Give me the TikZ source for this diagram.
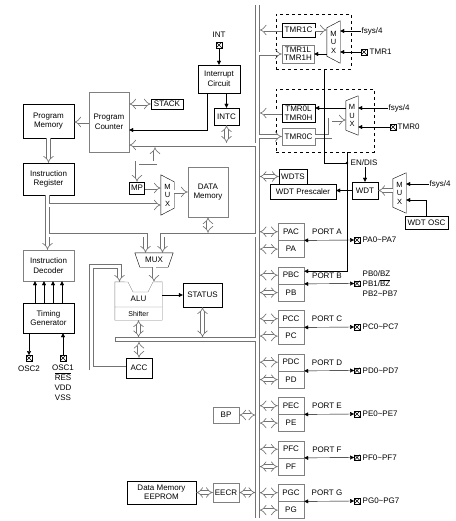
\documentclass[tikz,border=0pt]{standalone}
\usepackage{fontspec}
\setmainfont{Liberation Sans}
\usetikzlibrary{arrows.meta}

\begin{document}
\begin{tikzpicture}[x=1pt, y=-1pt
    , every node/.style={font=\fontsize{8}{9.5}\selectfont, inner sep=0.5pt}
    , box/.style={draw, align=center}
    , gbox/.style={box, draw=black!50}
    , bus/.style={draw=black!55, double=white, line width=0.65pt, double distance=3pt}
    , busto/.style={bus, -{Implies[scale=1.3]}}
    , busfrom/.style={bus, {Implies[scale=1.3]}-}
    , busboth/.style={bus, {Implies[scale=1.3]}-{Implies[scale=1.3]}}
    , sig/.style={-{Triangle[length=4pt, width=4pt]}}
    , sigboth/.style={{Triangle[length=4pt, width=4pt]}-{Triangle[length=4pt, width=4pt]}}
    , iopad/.style={draw, minimum size=5.5pt, inner sep=0pt
        , path picture={\draw (path picture bounding box.south west) -- (path picture bounding box.north east)
            (path picture bounding box.north west) -- (path picture bounding box.south east);}}
    , muxtxt/.style={minimum width=13pt, align=center, font=\fontsize{7.5}{8.5}\selectfont}
    ]
    \useasboundingbox (0,0) rectangle (455,521);

    % timers
    \node[draw, dashed, minimum width=75pt, minimum height=55pt] (tmr1box) at (313.5,41.5) {};
    \node[draw, dashed, minimum width=98pt, minimum height=63pt] (tmr0box) at (325,120.5) {};

    % left column
    \node[box, minimum width=51pt, minimum height=34pt] (pm) at (48.5,121) {Program\\Memory};
    \node[gbox, minimum width=40pt, minimum height=60pt] (pc) at (109,122) {Program\\Counter};
    \node[box, minimum width=32pt, minimum height=10pt] (stack) at (167,104) {STACK};
    \node[iopad] (intpad) at (219,45) {};
    \node (intlbl) at (219,35) {INT};
    \node[box, minimum width=42pt, minimum height=28pt] (intcir) at (219,79) {Interrupt\\Circuit};
    \node[box, minimum width=25pt, minimum height=17pt] (intc) at (226.5,116.5) {INTC};
    \node[box, minimum width=51pt, minimum height=32pt] (ir) at (48.5,179) {Instruction\\Register};
    \node[box, minimum width=15pt, minimum height=12pt] (mp) at (137,188) {MP};
    \node[muxtxt, minimum height=40pt] (dmux) at (167.5,195) {M\\U\\X};
    \node[gbox, minimum width=40pt, minimum height=50pt] (dm) at (208,192) {DATA\\Memory};
    \node[gbox, minimum width=51pt, minimum height=31pt] (id) at (48.5,265.5) {Instruction\\Decoder};
    \node[box, minimum width=51pt, minimum height=30pt] (tg) at (48.5,318) {Timing\\Generator};
    \node[iopad] (osc2) at (29,358) {};
    \node (osc2lbl) at (29,369) {OSC2};
    \node[iopad] (osc1) at (63,358) {};
    \node[align=center, anchor=north, font=\fontsize{8}{10}\selectfont] (osc1lbl) at (63,364) {OSC1\\$\overline{\mbox{RES}}$\\VDD\\VSS};

    % ALU part
    \node[minimum width=38pt, minimum height=14pt] (amux) at (154,260) {MUX};
    \node[minimum width=47pt, minimum height=38pt] (alu) at (138.5,301) {};
    \node (alulbl) at (138.5,298.5) {ALU};
    \node[font=\fontsize{7}{8}\selectfont] (shflbl) at (138.5,313.5) {Shifter};
    \node[box, minimum width=39pt, minimum height=24pt] (status) at (202.5,295) {STATUS};
    \node[box, minimum width=26pt, minimum height=20pt] (acc) at (139,368) {ACC};
    \node[gbox, minimum width=26pt, minimum height=16pt] (bp) at (226,415) {BP};
    \node[gbox, minimum width=26pt, minimum height=19pt] (eecr) at (226,492.5) {EECR};
    \node[box, minimum width=69pt, minimum height=23pt] (eeprom) at (161.5,492.5) {Data Memory\\EEPROM};

    % right column
    \node[box, minimum width=33pt, minimum height=14pt] (tmr1c) at (298.5,30) {TMR1C};
    \node[gbox, minimum width=32pt, minimum height=18pt, font=\fontsize{8}{8.5}\selectfont] (tmr1lh) at (298,54) {TMR1L\\TMR1H};
    \node[muxtxt, minimum height=42pt] (mux1) at (333.5,42) {M\\U\\X};
    \node[anchor=west] (fs1) at (361,31) {fsys/4};
    \node[iopad] (tmr1pad) at (364,52) {};
    \node[anchor=west] (tmr1lbl) at (369,52) {TMR1};
    \node[box, minimum width=33pt, minimum height=18pt, font=\fontsize{8}{8.5}\selectfont] (tmr0lh) at (298.5,113) {TMR0L\\TMR0H};
    \node[gbox, minimum width=33pt, minimum height=17pt] (tmr0c) at (298.5,136.5) {TMR0C};
    \node[muxtxt, minimum width=12pt, minimum height=39pt] (mux0) at (352,115.5) {M\\U\\X};
    \node[anchor=west] (fs0) at (388,108) {fsys/4};
    \node[iopad] (tmr0pad) at (393,127) {};
    \node[anchor=west] (tmr0lbl) at (397,127) {TMR0};
    \coordinate (endot) at (347,163);
    \node[anchor=west] (endis) at (350,163) {EN/DIS};
    \node[box, minimum width=28pt, minimum height=15pt] (wdts) at (293,176.5) {WDTS};
    \node[box, minimum width=66pt, minimum height=15pt] (wpre) at (303,191.5) {WDT Prescaler};
    \node[box, minimum width=26pt, minimum height=17pt] (wdt) at (365,190.5) {WDT};
    \node[muxtxt, minimum height=40pt] (wmux) at (399.5,193) {M\\U\\X};
    \node[anchor=west] (fsw) at (429,184) {fsys/4};
    \node[box, minimum width=43pt, minimum height=13pt] (wosc) at (426.5,222.5) {WDT OSC};

    % mux outlines
    \draw (mux1.north east) -- (mux1.south east) -- ([yshift=7pt]mux1.south west) -- ([yshift=-7pt]mux1.north west) -- cycle;
    \draw (mux0.north east) -- (mux0.south east) -- ([yshift=5pt]mux0.south west) -- ([yshift=-5pt]mux0.north west) -- cycle;
    \draw (wmux.north east) -- (wmux.south east) -- ([yshift=6pt]wmux.south west) -- ([yshift=-6pt]wmux.north west) -- cycle;
    \draw (dmux.north west) -- (dmux.south west) -- ([yshift=7pt]dmux.south east) -- ([yshift=-7pt]dmux.north east) -- cycle;
    \draw (amux.north west) -- (amux.north east) -- ([xshift=-5pt]amux.south east) -- ([xshift=5pt]amux.south west) -- cycle;
    \draw[black!50] (alu.north west) -- (128,282) -- (133,292) -- (148,292) -- (153,282) -- (alu.north east)
        -- (alu.south east) -- (alu.south west) -- cycle (115,307) -- (162,307);

    % data bus
    \draw[bus] (257.5,5) -- (257.5,518)
        (257.5,145) -- (140,145)
        (257.5,235) -- (162.5,235) -- (162.5,246)
        (257.5,339.5) -- (115,339.5)
        (257.5,54) -- (272,54)
        (257.5,136.5) -- (272,136.5);
    \draw[black!55, line width=0.65pt] (115.3,337.4) -- (115.3,341.6);
    \draw[busto] (146,145) -- (pc.east |- 0,145);
    \draw[busto] (162.5,242) -- ([xshift=8.5pt]amux.north);
    \draw[busto] (266,54) -- (tmr1lh.west);
    \draw[busto] (266,136.5) -- (tmr0c.west);

    % instruction paths
    \draw[bus] (ir.south -| 47.5,0) -- (47.5,242)
        (47.5,205) -- (152,205)
        (47.5,235) -- (145.5,235) -- (145.5,246);
    \draw[busto] (47.5,238) -- (id.north -| 47.5,0);
    \draw[busto] (149,205) -- (dmux.west |- 0,205);
    \draw[busto] (145.5,242) -- ([xshift=-8.5pt]amux.north);

    \draw[busto] (pc.west) -- (pc.west -| pm.east);
    \draw[busto] (pm.south) -- (ir.north);
    \draw[busboth] (pc.east |- stack) -- (stack.west);
    \draw[busboth] (intc.south) -- (intc.south |- 0,142.9);
    \draw[busboth] (155,147.1) -- (155,163) -| (mp.north);
    \draw[busto] (mp.east) -- (mp.east -| dmux.west);
    \draw[busto] (dmux.east |- dm) -- (dm.west);
    \draw[busboth] (dm.south) -- (dm.south |- 0,232.9);
    \draw[busto] (acc.west) -| (91.5,266.5) -| ([xshift=-19pt]alu.north);
    \draw[busto] (amux.south) -- (amux.south |- alu.north);
    \draw[busboth] (alu.south) -- (alu.south |- 0,337.4);
    \draw[busboth] (status.south) -- (status.south |- 0,337.4);
    \draw[busboth] (acc.north) -- (acc.north |- 0,341.6);
    \draw[busboth] (bp.east) -- (bp.east -| 255.4,0);
    \draw[busboth] (eecr.east) -- (eecr.east -| 255.4,0);
    \draw[busboth] (eeprom.east) -- (eecr.west);

    \draw[sig] (intpad.south) -- (intcir.north);
    \draw[sig] (intc.north |- intcir.south) -- (intc.north);
    \draw[sig] ([xshift=-12pt]intcir.south) |- (pc.east |- 0,130);
    \draw[sig] (alu.east |- status) -- (status.west);
    \foreach \x in {35,44,53,62}
        \draw[sig] (tg.north -| \x,0) -- (id.south -| \x,0);
    \draw[sig] (tg.south -| osc2) -- (osc2.north);
    \draw[sig] (osc1.north) -- (tg.south -| osc1);

    % ports
    \foreach \l [count=\k from 0] in {A,B,C,D,E,F,G}{
        \pgfmathsetmacro{\yt}{223+43.5*\k}
        \node[gbox, minimum width=26pt, minimum height=17pt, anchor=north] (ctl\l) at (291,\yt) {P\l C};
        \node[gbox, minimum width=26pt, minimum height=17pt, anchor=north] (dat\l) at (ctl\l.south) {P\l};
        \draw[busboth] (ctl\l.west -| 259.6,0) -- (ctl\l.west);
        \draw[busboth] (dat\l.west -| 259.6,0) -- (dat\l.west);
        \node[iopad] (pad\l) at (357,\yt+17) {};
        \draw[sigboth] (ctl\l.south east) -- (pad\l.west);
        \node (port\l) at (327,\yt+9) {PORT \l};
        \if\l B\else
            \node[anchor=west] (pins\l) at (362,\yt+17) {P\l0\textasciitilde P\l7};
        \fi
    }
    \node[anchor=west, align=left, font=\fontsize{8}{10}\selectfont] (pinsB) at (362,284) {PB0/BZ\\PB1/$\overline{\mbox{BZ}}$\\PB2\textasciitilde PB7};

    % timers and WDT
    \draw[busfrom] (tmr1c.west -| 259.6,0) -- (tmr1c.west);
    \draw[busto] (tmr1c.east) -- (tmr1c.east -| mux1.west);
    \draw[sig] (mux1.west |- tmr1lh) -- (tmr1lh.east);
    \draw[sig] (fs1.west) -- (fs1.west -| mux1.east);
    \draw[sig] (tmr1pad.west) -- (tmr1pad.west -| mux1.east);
    \draw[busfrom] (tmr0lh.west -| 259.6,0) -- (tmr0lh.west);
    \draw[sig] (mux0.west |- 0,108) -- (tmr0lh.east |- 0,108);
    \draw[sig] (fs0.west) -- (fs0.west -| mux0.east);
    \draw[sig] (tmr0pad.west) -- (tmr0pad.west -| mux0.east);
    \draw[busto] (tmr0c.east) -| (330,120) -- (mux0.west |- 0,120);
    \draw ([xshift=10.5pt]tmr1box.south) |- (endot);
    \draw[sig] (tmr0box.south -| endot) |- ([yshift=4pt]ctlB.east);
    \fill (endot) circle (1.3pt);
    \draw[sig] (wdt.north |- endis.south) -- (wdt.north);
    \draw[busboth] (wdts.west -| 259.6,0) -- (wdts.west);
    \draw[sig] (wdt.west) -- (wdt.west -| wpre.east);
    \draw[busto] (wmux.west |- wdt) -- (wdt.east);
    \draw[sig] (fsw.west) -- (fsw.west -| wmux.east);
    \draw[sig] (wosc.north) |- ([yshift=-7pt]wmux.east);

\end{tikzpicture}
\end{document}
